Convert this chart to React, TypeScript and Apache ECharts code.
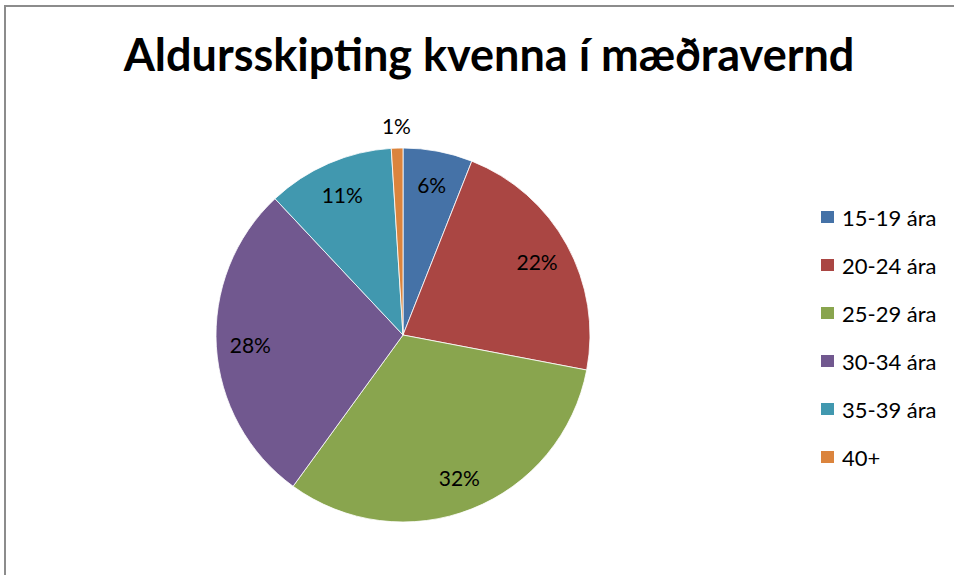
import React, { useEffect, useRef } from "react";
import * as echarts from "echarts";

const titleText = "Aldursskipting kvenna í mæðravernd";
const categories = ["15-19 ára", "20-24 ára", "25-29 ára", "30-34 ára", "35-39 ára", "40+"];
const values = [6, 22, 32, 28, 11, 1];
const colors = ["#4572A7", "#AA4643", "#89A54E", "#71588F", "#4198AF", "#DB843D"];
const outsideLabelCategories = ["40+"];

const FONT = "Lato, 'Open Sans', sans-serif";

export default function App() {
  const ref = useRef<HTMLDivElement>(null);
  useEffect(() => {
    if (!ref.current) return;
    const chart = echarts.init(ref.current, undefined, { renderer: "svg" });
    const mainData = categories.map((c, i) => ({
      name: c,
      value: values[i],
      itemStyle: { color: colors[i] },
    }));
    const innerLabelData = categories.map((c, i) => ({
      name: c,
      value: values[i],
      label: { show: !outsideLabelCategories.includes(c) },
    }));
    const outerLabelData = categories.map((c, i) => ({
      name: c,
      value: values[i],
      label: { show: outsideLabelCategories.includes(c) },
    }));
    const labelStyle = {
      position: "inside" as const,
      formatter: (p: any) => Math.round(p.percent) + "%",
      color: "#000",
      fontFamily: FONT,
      fontSize: 21,
    };
    const transparent = { color: "rgba(0,0,0,0)", borderWidth: 0 };
    chart.setOption({
      animation: false,
      title: {
        text: titleText,
        left: 484,
        top: 26,
        textAlign: "center",
        textStyle: { fontFamily: FONT, fontWeight: "bold", fontSize: 45, color: "#000" },
      },
      legend: {
        orient: "vertical",
        left: 814,
        top: 201,
        itemWidth: 15,
        itemHeight: 14,
        itemGap: 26,
        icon: "rect",
        selectedMode: false,
        data: categories,
        textStyle: { fontFamily: FONT, fontSize: 22, lineHeight: 22, color: "#000", padding: [0, 0, 0, 2] },
      },
      graphic: [
        {
          type: "rect",
          shape: { x: 5, y: 6, width: 1200, height: 1200 },
          style: { fill: "none", stroke: "#8c8c8c", lineWidth: 2 },
          silent: true,
        },
      ],
      series: [
        {
          type: "pie",
          center: [403, 335],
          radius: 187,
          startAngle: 90,
          clockwise: true,
          silent: true,
          label: { show: false },
          labelLine: { show: false },
          itemStyle: { borderColor: "#ffffff", borderWidth: 0.8 },
          emphasis: { disabled: true },
          data: mainData,
        },
        {
          type: "pie",
          center: [403, 335],
          radius: 300,
          startAngle: 90,
          clockwise: true,
          silent: true,
          itemStyle: transparent,
          label: labelStyle,
          labelLine: { show: false },
          emphasis: { disabled: true },
          data: innerLabelData,
        },
        {
          type: "pie",
          center: [403, 335],
          radius: 414,
          startAngle: 90,
          clockwise: true,
          silent: true,
          itemStyle: transparent,
          label: labelStyle,
          labelLine: { show: false },
          emphasis: { disabled: true },
          data: outerLabelData,
        },
      ],
    });
    return () => chart.dispose();
  }, []);
  return (
    <div
      ref={ref}
      style={{ position: "fixed", left: 0, top: 0, width: 954, height: 575, background: "#fff" }}
    />
  );
}
